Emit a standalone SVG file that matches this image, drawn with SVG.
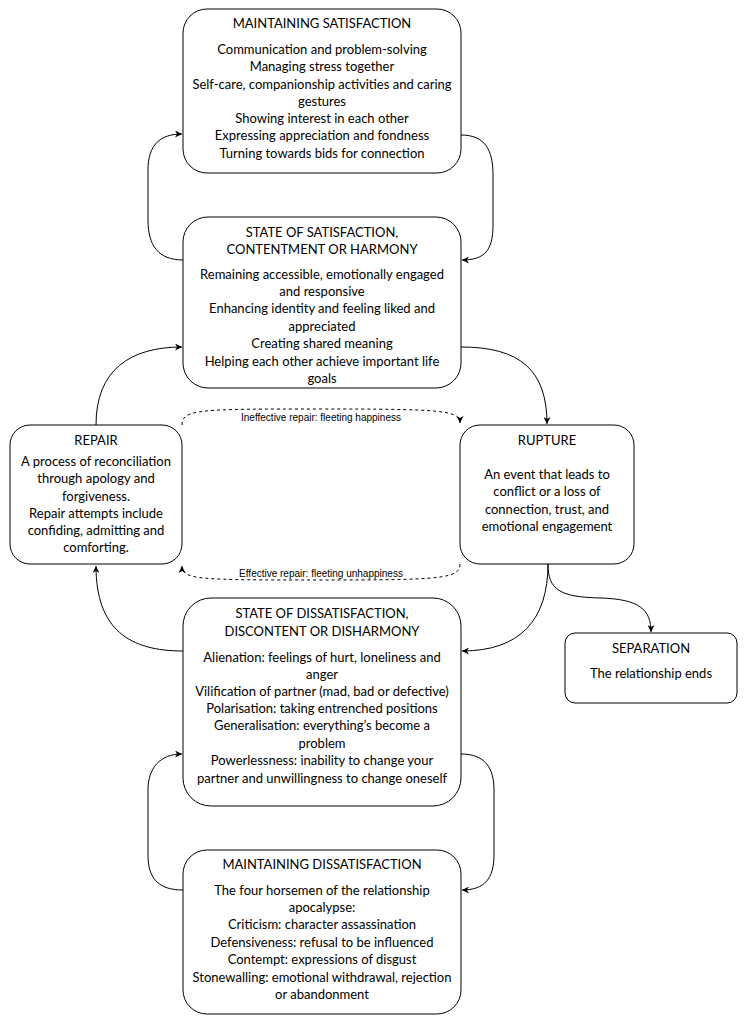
<svg xmlns="http://www.w3.org/2000/svg" width="747" height="1024" viewBox="0 0 747 1024">
<style>
.box{fill:#fff;stroke:#000;stroke-width:1}
.t{font-family:Lato,"Liberation Sans",sans-serif;font-size:13px;fill:#000;text-anchor:middle}
.e{fill:none;stroke:#000;stroke-width:1}
.d{fill:none;stroke:#000;stroke-width:1;stroke-dasharray:3 3}
.lbl{font-family:"Liberation Sans",Arial,sans-serif;font-size:10px;fill:#000;text-anchor:middle}
</style>
<defs>
<marker id="arr" viewBox="0 0 10 10" refX="10" refY="5" markerWidth="7" markerHeight="7" markerUnits="userSpaceOnUse" orient="auto">
<path d="M0,0 L10,5 L0,10 L3,5 z" fill="#000"/>
</marker>
</defs>
<rect width="747" height="1024" fill="#fff"/>
<g id="connectors">
<path class="e" d="M461,135 C485,135 493,150 493,175 L493,225 C493,250 485,260 462,260" marker-end="url(#arr)"/>
<path class="e" d="M183,260 C158,260 148,245 148,220 L148,170 C148,145 160,134 182,134" marker-end="url(#arr)"/>
<path class="e" d="M461,347 C520,347 547,370 547,424" marker-end="url(#arr)"/>
<path class="e" d="M96,425 C96,370 130,347 182,347" marker-end="url(#arr)"/>
<path class="d" d="M182,425 C182,409 200,409 320,409 C440,409 460,410 460,423" marker-end="url(#arr)"/>
<path class="d" d="M460,564 C460,579 440,580 320,580 C200,580 182,580 182,566" marker-end="url(#arr)"/>
<path class="e" d="M548,564 C548,620 520,651 462,651" marker-end="url(#arr)"/>
<path class="e" d="M548,564 C548,590 560,597 600,598 C640,599 651,610 651,632" marker-end="url(#arr)"/>
<path class="e" d="M183,651 C130,651 96,630 96,566" marker-end="url(#arr)"/>
<path class="e" d="M461,754 C485,754 494,768 494,790 L494,855 C494,878 485,890 462,890" marker-end="url(#arr)"/>
<path class="e" d="M183,890 C158,890 148,878 148,855 L148,790 C148,768 160,754 182,754" marker-end="url(#arr)"/>
<text class="lbl" x="321" y="420.5">Ineffective repair: fleeting happiness</text>
<text class="lbl" x="321" y="576.5">Effective repair: fleeting unhappiness</text>
</g>
<g id="maintaining-satisfaction">
<rect class="box" x="183" y="9" width="278" height="164" rx="24"/>
<text class="t" x="322" y="28">MAINTAINING SATISFACTION</text>
<text class="t" x="322" y="54">Communication and problem-solving</text>
<text class="t" x="322" y="71">Managing stress together</text>
<text class="t" x="322" y="88.5">Self-care, companionship activities and caring</text>
<text class="t" x="322" y="105.5">gestures</text>
<text class="t" x="322" y="123">Showing interest in each other</text>
<text class="t" x="322" y="140">Expressing appreciation and fondness</text>
<text class="t" x="322" y="157.5">Turning towards bids for connection</text>
</g>
<g id="state-satisfaction">
<rect class="box" x="183" y="217" width="278" height="171" rx="25"/>
<text class="t" x="322" y="237">STATE OF SATISFACTION,</text>
<text class="t" x="322" y="254">CONTENTMENT OR HARMONY</text>
<text class="t" x="322" y="279">Remaining accessible, emotionally engaged</text>
<text class="t" x="322" y="296">and responsive</text>
<text class="t" x="322" y="313">Enhancing identity and feeling liked and</text>
<text class="t" x="322" y="331">appreciated</text>
<text class="t" x="322" y="348">Creating shared meaning</text>
<text class="t" x="322" y="366">Helping each other achieve important life</text>
<text class="t" x="322" y="383">goals</text>
</g>
<g id="repair">
<rect class="box" x="10" y="425" width="172" height="139" rx="20"/>
<text class="t" x="96" y="445">REPAIR</text>
<text class="t" x="96" y="466">A process of reconciliation</text>
<text class="t" x="96" y="483">through apology and</text>
<text class="t" x="96" y="501">forgiveness.</text>
<text class="t" x="96" y="517.5">Repair attempts include</text>
<text class="t" x="96" y="535">confiding, admitting and</text>
<text class="t" x="96" y="552">comforting.</text>
</g>
<g id="rupture">
<rect class="box" x="460" y="425" width="174" height="139" rx="20"/>
<text class="t" x="547" y="445">RUPTURE</text>
<text class="t" x="547" y="479">An event that leads to</text>
<text class="t" x="547" y="496">conflict or a loss of</text>
<text class="t" x="547" y="513.5">connection, trust, and</text>
<text class="t" x="547" y="531">emotional engagement</text>
</g>
<g id="state-dissatisfaction">
<rect class="box" x="183" y="598" width="278" height="208" rx="28"/>
<text class="t" x="322" y="618">STATE OF DISSATISFACTION,</text>
<text class="t" x="322" y="636">DISCONTENT OR DISHARMONY</text>
<text class="t" x="322" y="661.5">Alienation: feelings of hurt, loneliness and</text>
<text class="t" x="322" y="678.5">anger</text>
<text class="t" x="322" y="696">Vilification of partner (mad, bad or defective)</text>
<text class="t" x="322" y="713">Polarisation: taking entrenched positions</text>
<text class="t" x="322" y="730">Generalisation: everything’s become a</text>
<text class="t" x="322" y="747.5">problem</text>
<text class="t" x="322" y="765">Powerlessness: inability to change your</text>
<text class="t" x="322" y="782.5">partner and unwillingness to change oneself</text>
</g>
<g id="separation">
<rect class="box" x="565" y="633" width="172" height="70" rx="10"/>
<text class="t" x="651" y="653">SEPARATION</text>
<text class="t" x="651" y="678">The relationship ends</text>
</g>
<g id="maintaining-dissatisfaction">
<rect class="box" x="183" y="850" width="278" height="164" rx="24"/>
<text class="t" x="322" y="868.5">MAINTAINING DISSATISFACTION</text>
<text class="t" x="322" y="895">The four horsemen of the relationship</text>
<text class="t" x="322" y="912">apocalypse:</text>
<text class="t" x="322" y="929">Criticism: character assassination</text>
<text class="t" x="322" y="947">Defensiveness: refusal to be influenced</text>
<text class="t" x="322" y="964">Contempt: expressions of disgust</text>
<text class="t" x="322" y="981.5">Stonewalling: emotional withdrawal, rejection</text>
<text class="t" x="322" y="999">or abandonment</text>
</g>
</svg>
